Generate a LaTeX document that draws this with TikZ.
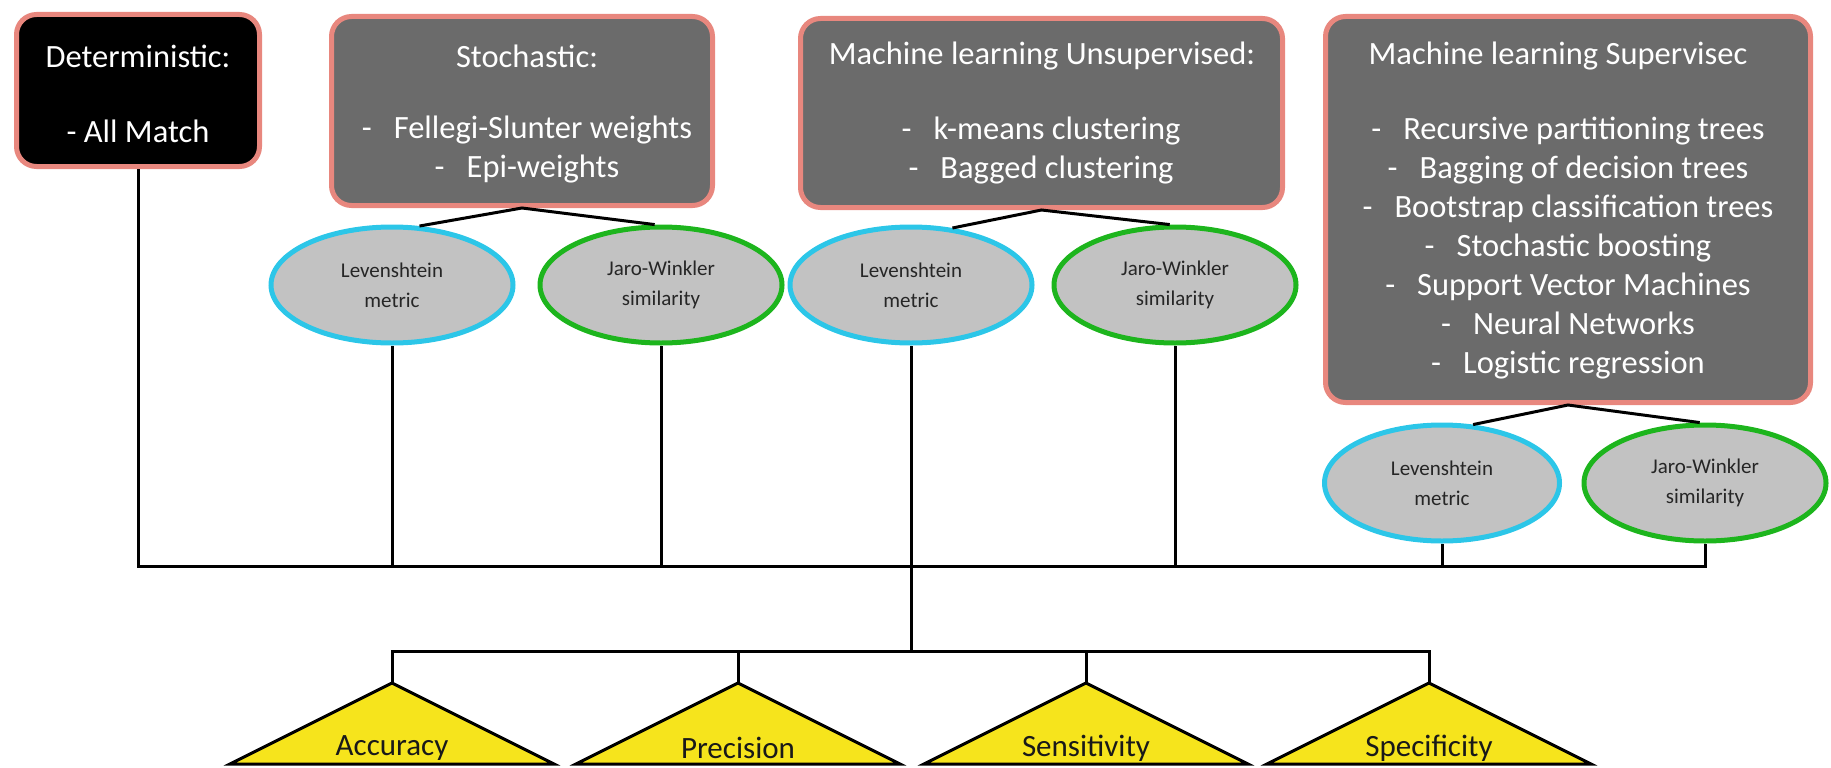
\documentclass[tikz,border=0pt]{standalone}
\usepackage{fontspec}
\setmainfont{Carlito}
\usetikzlibrary{shapes.geometric}
\definecolor{boxgray}{HTML}{6B6B6B}
\definecolor{edgepink}{HTML}{E8877E}
\definecolor{ovalgray}{HTML}{C2C2C2}
\definecolor{levcyan}{HTML}{2CC6E8}
\definecolor{jwgreen}{HTML}{1DB51D}
\definecolor{triyellow}{HTML}{F6E41C}
\begin{document}
\begin{tikzpicture}[x=1pt,y=-1pt,
  catbox/.style={draw=edgepink, line width=5pt, fill=boxgray, rounded corners=20pt, inner sep=0pt},
  boxtext/.style={text=white, font=\fontsize{32.5}{39}\selectfont, align=center, inner sep=0pt},
  oval/.style={ellipse, fill=ovalgray, line width=5pt, minimum width=242pt, minimum height=116pt,
    inner sep=0pt, text=black!85, font=\fontsize{21}{30}\selectfont, align=center},
  levoval/.style={oval, draw=levcyan},
  jwoval/.style={oval, draw=jwgreen},
  conn/.style={line width=3pt, black},
  tri/.style={draw=black, line width=3pt, fill=triyellow},
  tritext/.style={font=\fontsize{31}{36}\selectfont, text=black!90, inner sep=0pt}
]
\useasboundingbox (0,0) rectangle (1831,768);

% category boxes
\node[catbox, fill=black, minimum width=243pt, minimum height=152pt] (det) at (138,90.5) {};
\node[catbox, minimum width=381pt, minimum height=189pt] (sto) at (522,111) {};
\node[catbox, minimum width=482pt, minimum height=189pt] (uns) at (1041.5,113) {};
\node[catbox, minimum width=485pt, minimum height=386pt] (sup) at (1568,209.5) {};

% box texts
\node[boxtext] (detT) at (138,56) {Deterministic:};
\node[boxtext] (detL) at (138,131) {- All Match};
\node[boxtext] (stoT) at (527,56) {Stochastic:};
\node[boxtext] (stoL) at (527,149.5) {-\hspace{22pt}Fellegi-Slunter weights\\-\hspace{22pt}Epi-weights};
\node[boxtext] (unsT) at (1042,56) {Machine learning Unsupervised:};
\node[boxtext] (unsL) at (1041,151) {-\hspace{22pt}k-means clustering\\-\hspace{22pt}Bagged clustering};
\node[boxtext] (supT) at (1558,56) {Machine learning Supervisec};
\node[boxtext] (supL) at (1568,248) {-\hspace{22pt}Recursive partitioning trees\\
  -\hspace{22pt}Bagging of decision trees\\
  -\hspace{22pt}Bootstrap classification trees\\
  -\hspace{22pt}Stochastic boosting\\
  -\hspace{22pt}Support Vector Machines\\
  -\hspace{22pt}Neural Networks\\
  -\hspace{22pt}Logistic regression};

% string metrics
\node[levoval] (lev1) at (392,285) {Levenshtein\\metric};
\node[jwoval]  (jw1)  at (661,285) {Jaro-Winkler\\similarity};
\node[levoval] (lev2) at (911,285) {Levenshtein\\metric};
\node[jwoval]  (jw2)  at (1175,285) {Jaro-Winkler\\similarity};
\node[levoval, minimum width=235pt] (lev3) at (1442,483) {Levenshtein\\metric};
\node[jwoval]  (jw3)  at (1705,483) {Jaro-Winkler\\similarity};

% box to metrics
\draw[conn] (lev1.65) -- (sto.south) -- (jw1.96);
\draw[conn] (lev2.54) -- (uns.south) -- (jw2.95);
\draw[conn] (lev3.62) -- (sup.south) -- (jw3.95);

% buses
\coordinate (bus) at (0,566);
\coordinate (lowbus) at (0,651);
\coordinate (t1) at (392,683);
\coordinate (t2) at (738,683);
\coordinate (t3) at (1086,683);
\coordinate (t4) at (1429,683);

\draw[conn] (det.south) |- (jw3.south |- bus) -- (jw3.south);
\draw[conn] (lev1.south) -- (lev1.south |- bus);
\draw[conn] (jw1.south) -- (jw1.south |- bus);
\draw[conn] (jw2.south) -- (jw2.south |- bus);
\draw[conn] (lev3.south) -- (lev3.south |- bus);
\draw[conn] (lev2.south) -- (lev2.south |- lowbus);
\draw[conn] (t1) |- (t4 |- lowbus) -- (t4);
\draw[conn] (t2) -- (t2 |- lowbus);
\draw[conn] (t3) -- (t3 |- lowbus);

% evaluation measures
\foreach \t in {t1,t2,t3,t4}
  \draw[tri] (\t) -- ++(-162,81) -- ++(324,0) -- cycle;
\node[tritext] (acc) at (t1 |- 0,748) {Accuracy};
\node[tritext] (pre) at (t2 |- 0,748) {Precision};
\node[tritext] (sen) at (t3 |- 0,748) {Sensitivity};
\node[tritext] (spe) at (t4 |- 0,748) {Specificity};
\end{tikzpicture}
\end{document}
